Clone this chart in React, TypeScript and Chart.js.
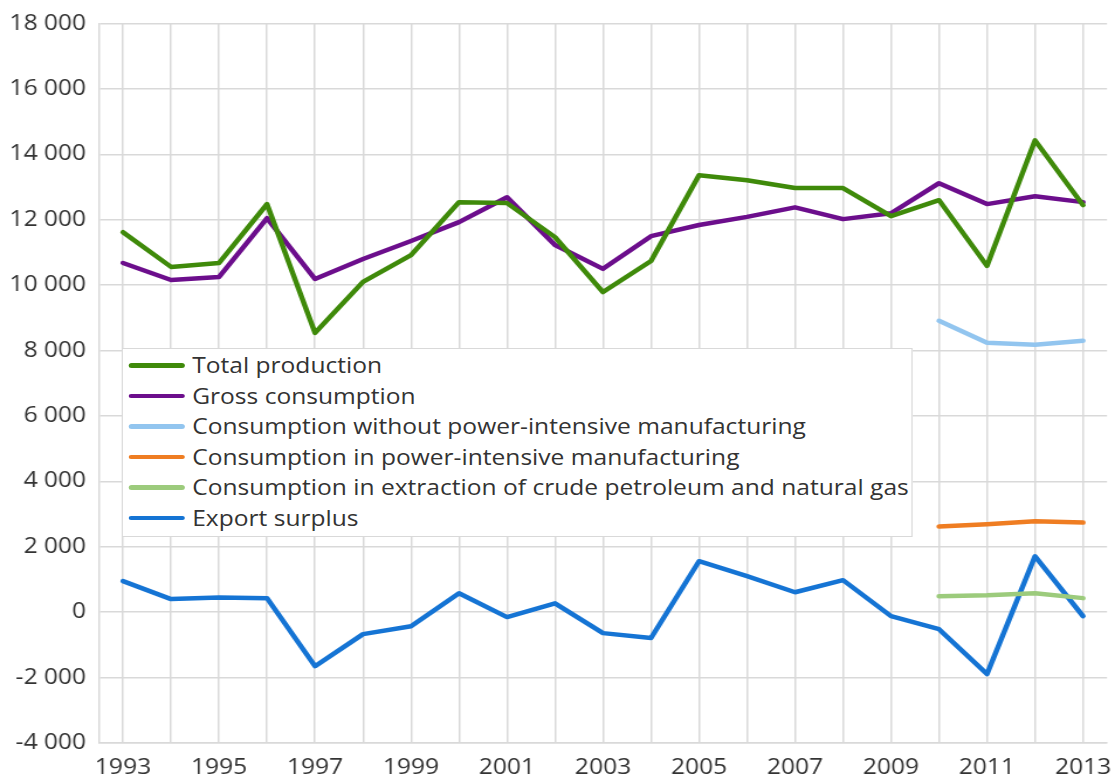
import React, { useEffect, useRef } from "react";
import { Chart, registerables } from "chart.js";

Chart.register(...registerables);

const years = [
  "1993", "1994", "1995", "1996", "1997", "1998", "1999", "2000", "2001", "2002", "2003",
  "2004", "2005", "2006", "2007", "2008", "2009", "2010", "2011", "2012", "2013",
];

const totalProduction = [
  11620, 10560, 10680, 12480, 8540, 10100, 10920, 12540, 12510, 11470, 9790,
  10740, 13360, 13210, 12970, 12970, 12110, 12600, 10590, 14430, 12450,
];

const grossConsumption = [
  10680, 10160, 10250, 12050, 10190, 10800, 11350, 11930, 12690, 11230, 10500,
  11500, 11840, 12090, 12380, 12020, 12200, 13120, 12480, 12720, 12540,
];

const consWithoutPowerIntensive = [
  null, null, null, null, null, null, null, null, null, null, null,
  null, null, null, null, null, null, 8910, 8240, 8180, 8300,
];

const consPowerIntensive = [
  null, null, null, null, null, null, null, null, null, null, null,
  null, null, null, null, null, null, 2620, 2690, 2780, 2740,
];

const consExtraction = [
  null, null, null, null, null, null, null, null, null, null, null,
  null, null, null, null, null, null, 490, 520, 580, 430,
];

const exportSurplus = [
  950, 400, 450, 430, -1650, -670, -430, 580, -150, 270, -640,
  -790, 1560, 1100, 610, 980, -120, -520, -1890, 1710, -120,
];

const seriesLabels = [
  "Total production",
  "Gross consumption",
  "Consumption without power-intensive manufacturing",
  "Consumption in power-intensive manufacturing",
  "Consumption in extraction of crude petroleum and natural gas",
  "Export surplus",
];

const seriesColors = ["#3f8a0a", "#6c0e8c", "#92c5ef", "#ef7d22", "#9ccb7c", "#1574d4"];

const FONT = "'Open Sans', 'Noto Sans', sans-serif";
const SX = 1.17; // horizontal stretch of the reference rendering
const W = 1115;
const H = 780;
const CW = Math.round(W / SX);

function fmt(v: number): string {
  const s = Math.abs(v).toString().replace(/\B(?=(\d{3})+(?!\d))/g, " ");
  return (v < 0 ? "-" : "") + s;
}

export default function App() {
  const ref = useRef<HTMLCanvasElement | null>(null);

  useEffect(() => {
    if (!ref.current) return;
    const data = [
      totalProduction,
      grossConsumption,
      consWithoutPowerIntensive,
      consPowerIntensive,
      consExtraction,
      exportSurplus,
    ];
    const chart = new Chart(ref.current, {
      type: "line",
      data: {
        labels: years,
        datasets: data.map((d, i) => ({
          label: seriesLabels[i],
          data: d,
          borderColor: seriesColors[i],
          backgroundColor: seriesColors[i],
          borderWidth: 4.5,
          pointRadius: 0,
          tension: 0,
          spanGaps: false,
          borderCapStyle: "round" as const,
          borderJoinStyle: "round" as const,
        })),
      },
      options: {
        animation: false,
        responsive: false,
        maintainAspectRatio: false,
        layout: { padding: { left: 0, top: 21, right: 8 / SX, bottom: 0 } },
        plugins: {
          legend: { display: false },
          tooltip: { enabled: false },
        },
        scales: {
          x: {
            offset: true,
            grid: { offset: false, color: "#d9d9d9", lineWidth: 1.5, drawTicks: false },
            border: { display: true, color: "#d9d9d9", width: 1.5 },
            ticks: {
              autoSkip: false,
              maxRotation: 0,
              padding: 12,
              color: "#333",
              font: { family: FONT, size: 21 },
              callback: (_v: any, i: number) => (i % 2 === 0 ? years[i] : ""),
            },
            afterFit: (s: any) => {
              s.height = 37;
              s.paddingLeft = 0;
              s.paddingRight = 0;
            },
          },
          y: {
            min: -4000,
            max: 18000,
            ticks: {
              stepSize: 2000,
              padding: 11,
              color: "#333",
              font: { family: FONT, size: 21 },
              callback: (v: any) => fmt(Number(v)),
            },
            grid: { color: "#d9d9d9", lineWidth: 1.5, drawTicks: false },
            border: { display: true, color: "#d9d9d9", width: 1.5 },
            afterFit: (s: any) => {
              s.width = 99 / SX;
            },
          },
        },
      },
    });
    return () => chart.destroy();
  }, []);

  return (
    <div style={{ position: "fixed", left: 0, top: 0, width: W, height: H, background: "#fff", overflow: "hidden" }}>
      <div
        style={{
          position: "absolute",
          left: 0,
          top: 0,
          width: CW,
          height: H,
          transform: `scaleX(${W / CW})`,
          transformOrigin: "0 0",
        }}
      >
        <canvas ref={ref} width={CW} height={H} style={{ display: "block" }} />
        <div
          style={{
            position: "absolute",
            left: 122 / SX,
            top: 348,
            width: 791 / SX,
            height: 189,
            background: "#fff",
            border: "1.5px solid #d9d9d9",
            boxSizing: "border-box",
            paddingTop: 1,
          }}
        >
          {seriesLabels.map((l, i) => (
            <div
              key={l}
              style={{
                display: "flex",
                alignItems: "center",
                height: 30.5,
                fontFamily: FONT,
                fontSize: 21,
                color: "#333",
                whiteSpace: "nowrap",
              }}
            >
              <span
                style={{
                  display: "inline-block",
                  width: 48,
                  height: 4.5,
                  borderRadius: 2.5,
                  background: seriesColors[i],
                  marginLeft: 5,
                  marginRight: 6,
                }}
              />
              <span>{l}</span>
            </div>
          ))}
        </div>
      </div>
    </div>
  );
}
